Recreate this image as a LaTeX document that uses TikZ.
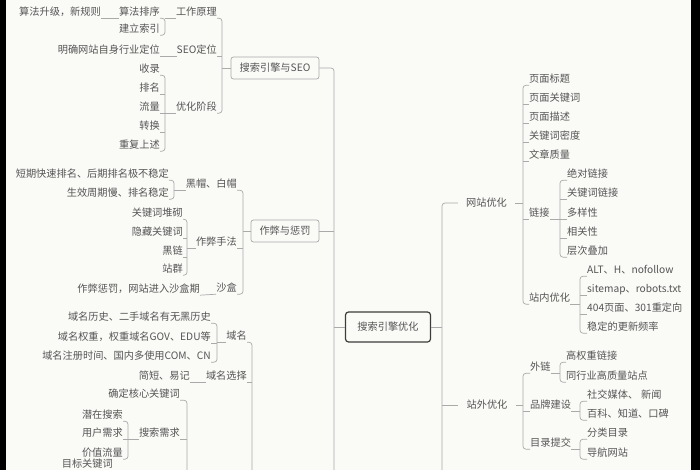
\documentclass[tikz,border=0pt]{standalone}
\usepackage{fontspec}
\setmainfont{Noto Sans CJK SC}
\definecolor{bgc}{RGB}{250,250,247}
\definecolor{txtc}{RGB}{85,85,85}
\definecolor{linec}{RGB}{170,170,170}
\definecolor{boxc}{RGB}{170,170,170}
\definecolor{mainc}{RGB}{60,60,60}
\newcommand\mmfs{\fontsize{10.2pt}{12pt}\selectfont}
\tikzset{
  conn/.style={draw=linec, line width=0.7pt, rounded corners=3pt},
  tx/.style={inner xsep=0pt, inner ysep=1pt, text height=8.8pt, text depth=1.2pt, text=txtc, font=\mmfs},
  lt/.style={tx, anchor=east},
  rt/.style={tx, anchor=west},
  midt/.style={tx, inner xsep=8pt},
  bx/.style={tx, draw=boxc, line width=0.7pt, rounded corners=2.5pt, inner xsep=7pt, minimum height=22pt},
  mainbx/.style={tx, draw=mainc, line width=1.2pt, rounded corners=3pt, inner xsep=8pt, minimum height=30pt, minimum width=85pt}
}
\begin{document}
\begin{tikzpicture}[x=1pt,y=-1pt]
\useasboundingbox (0,0) rectangle (700,470);
\clip (0,0) rectangle (700,470);
\fill[bgc] (0,0) rectangle (700,470);
\fill[black] (0,0) rectangle (6,470);
\fill[black] (691,0) rectangle (700,470);

% ---------- bracket coordinates ----------
\coordinate (B1) at (222,0);
\coordinate (B2) at (165,0);
\coordinate (B3) at (165,0);
\coordinate (B4) at (243,0);
\coordinate (B5) at (174,0);
\coordinate (B6) at (187,0);
\coordinate (B7) at (252,0);
\coordinate (B7e) at (252,490);
\coordinate (B8) at (217,0);
\coordinate (B9) at (187,0);
\coordinate (B9e) at (187,490);
\coordinate (B10) at (128,0);
\coordinate (B11) at (523,0);
\coordinate (B12) at (560,0);
\coordinate (B13) at (580,0);
\coordinate (B14) at (523,0);
\coordinate (B15) at (560,0);
\coordinate (B16) at (580,0);
\coordinate (B17) at (580,0);
\coordinate (TL) at (334,490);
\coordinate (TR) at (442,490);

% ---------- central ----------
\node[mainbx] (main) at (388,327) {搜索引擎优化};

% ---------- left: 搜索引擎与SEO ----------
\node[bx, minimum width=88pt] (seo) at (275,68) {搜索引擎与SEO};
\node[lt] (gz) at (217,12) {工作原理};
\node[lt] (seodw) at (217,50) {SEO定位};
\node[lt] (yh) at (217,107) {优化阶段};
\node[lt] (sf) at (160,12) {算法排序};
\node[lt] (jl) at (160,29) {建立索引};
\node[lt] (sfsj) at (101,12) {算法升级，新规则};
\node[lt] (mq) at (160,50) {明确网站自身行业定位};
\node[lt] (sl) at (160,69) {收录};
\node[lt] (pm) at (160,88) {排名};
\node[lt] (ll) at (160,107) {流量};
\node[lt] (zh) at (160,126) {转换};
\node[lt] (cf) at (160,145) {重复上述};

% ---------- left: 作弊与惩罚 ----------
\node[bx, minimum width=68pt] (zb) at (285,231) {作弊与惩罚};
\node[lt] (hb) at (237,184) {黑帽、白帽};
\node[lt] (zbsf) at (237,242) {作弊手法};
\node[lt] (sh) at (237,288) {沙盒};
\node[lt] (dq) at (169,174) {短期快速排名、后期排名极不稳定};
\node[lt] (sx) at (169,193) {生效周期慢、排名稳定};
\node[lt] (jc) at (183,213) {关键词堆砌};
\node[lt] (yc) at (183,232) {隐藏关键词};
\node[lt] (hl) at (183,251) {黑链};
\node[lt] (zq) at (183,269) {站群};
\node[lt] (zbcf) at (200,289) {作弊惩罚，网站进入沙盒期};

% ---------- left: bottom ----------
\node[lt] (dm) at (247,336) {域名};
\node[lt] (dmxz) at (247,376) {域名选择};
\node[lt] (dmls) at (211,317) {域名历史、二手域名有无黑历史};
\node[lt] (dmqz) at (211,337) {域名权重，权重域名GOV、EDU等};
\node[lt] (dmzc) at (211,356) {域名注册时间、国内多使用COM、CN};
\node[lt] (jdyj) at (190,376) {简短、易记};
\node[lt] (hx) at (180,394) {确定核心关键词};
\node[lt] (ssxq) at (180,433) {搜索需求};
\node[lt] (qz) at (123,415) {潜在搜索};
\node[lt] (yhxq) at (123,433) {用户需求};
\node[lt] (jzll) at (123,453) {价值流量};
\node[lt] (mbgjc) at (113,464) {目标关键词};

% ---------- right: 网站优化 ----------
\node[midt] (wz) at (486.5,203) {网站优化};
\node[rt] (ymbt) at (529,79) {页面标题};
\node[rt] (ymgjc) at (529,98) {页面关键词};
\node[rt] (ymms) at (529,117) {页面描述};
\node[rt] (gjcmd) at (529,136) {关键词密度};
\node[rt] (wzzl) at (529,155) {文章质量};
\node[rt] (lj) at (529,213) {链接};
\node[rt] (znyh) at (529,298) {站内优化};
\node[rt] (jdlj) at (567,174) {绝对链接};
\node[rt] (gjclj) at (567,193) {关键词链接};
\node[rt] (dyx) at (567,213) {多样性};
\node[rt] (xgx) at (567,232) {相关性};
\node[rt] (ccdj) at (567,251) {层次叠加};
\node[rt] (alt) at (587,270) {ALT、H、nofollow};
\node[rt] (smap) at (587,289) {sitemap、robots.txt};
\node[rt] (p404) at (587,308) {404页面、301重定向};
\node[rt] (wdgx) at (587,327) {稳定的更新频率};

% ---------- right: 站外优化 ----------
\node[midt] (zw) at (487,405) {站外优化};
\node[rt] (wl) at (530,367) {外链};
\node[rt] (ppjs) at (530,405) {品牌建设};
\node[rt] (mltj) at (530,443) {目录提交};
\node[rt] (gqz) at (566,356) {高权重链接};
\node[rt] (thy) at (566,376) {同行业高质量站点};
\node[rt] (shmt) at (587,395) {社交媒体、\hspace{3pt}新闻};
\node[rt] (bk) at (587,414) {百科、知道、口碑};
\node[rt] (fl) at (587,433) {分类目录};
\node[rt] (dh) at (587,453) {导航网站};

% ---------- trunks ----------
\draw[conn] (seo.east) -| (TL);
\draw[conn] (zb.east) -- (TL |- zb.east);
\draw[conn] (main.west) -- (TL |- main.west);
\draw[conn] (wz.west) -| (TR);
\draw[conn] (zw.west) -- (TR |- zw.west);
\draw[conn] (main.east) -- (TR |- main.east);

% ---------- left brackets ----------
\draw[conn] (gz.south east) -| (B1 |- yh.south) -- (yh.south east);
\draw[conn] (seodw.south east) -- (B1 |- seodw.south);
\draw[conn] (seo.west) -- (B1 |- seo.west);
\draw[conn] (sf.south east) -| (B2 |- jl.south) -- (jl.south east);
\draw[conn] (gz.south west) -- (B2 |- gz.south);
\draw[conn] (sfsj.south east) -- (sf.south west);
\draw[conn] (mq.south east) -- (seodw.south west);
\draw[conn] (sl.south east) -| (B3 |- cf.south) -- (cf.south east);
\draw[conn] (pm.south east) -- (B3 |- pm.south);
\draw[conn] (ll.south east) -- (B3 |- ll.south);
\draw[conn] (zh.south east) -- (B3 |- zh.south);
\draw[conn] (yh.south west) -- (B3 |- yh.south);
\draw[conn] (hb.south east) -| (B4 |- sh.south) -- (sh.south east);
\draw[conn] (zbsf.south east) -- (B4 |- zbsf.south);
\draw[conn] (zb.west) -- (B4 |- zb.west);
\draw[conn] (dq.south east) -| (B5 |- sx.south) -- (sx.south east);
\draw[conn] (hb.south west) -- (B5 |- hb.south);
\draw[conn] (jc.south east) -| (B6 |- zq.south) -- (zq.south east);
\draw[conn] (yc.south east) -- (B6 |- yc.south);
\draw[conn] (hl.south east) -- (B6 |- hl.south);
\draw[conn] (zbsf.south west) -- (B6 |- zbsf.south);
\draw[conn] (zbcf.south east) -- (sh.south west);
\draw[conn] (dm.south east) -| (B7e);
\draw[conn] (dmxz.south east) -- (B7 |- dmxz.south);
\draw[conn] (dmls.south east) -| (B8 |- dmzc.south) -- (dmzc.south east);
\draw[conn] (dmqz.south east) -- (B8 |- dmqz.south);
\draw[conn] (dm.south west) -- (B8 |- dm.south);
\draw[conn] (jdyj.south east) -- (dmxz.south west);
\draw[conn] (hx.south east) -| (B9e);
\draw[conn] (ssxq.south east) -- (B9 |- ssxq.south);
\draw[conn] (qz.south east) -| (B10 |- jzll.south) -- (jzll.south east);
\draw[conn] (yhxq.south east) -- (B10 |- yhxq.south);
\draw[conn] (ssxq.south west) -- (B10 |- ssxq.south);

% ---------- right brackets ----------
\draw[conn] (ymbt.south west) -| (B11 |- znyh.south) -- (znyh.south west);
\foreach \n in {ymgjc,ymms,gjcmd,wzzl,lj}{\draw[conn] (\n.south west) -- (B11 |- \n.south);}
\draw[conn] (wz.east) -- (B11 |- wz.east);
\draw[conn] (jdlj.south west) -| (B12 |- ccdj.south) -- (ccdj.south west);
\foreach \n in {gjclj,dyx,xgx}{\draw[conn] (\n.south west) -- (B12 |- \n.south);}
\draw[conn] (lj.south east) -- (B12 |- lj.south);
\draw[conn] (alt.south west) -| (B13 |- wdgx.south) -- (wdgx.south west);
\foreach \n in {smap,p404}{\draw[conn] (\n.south west) -- (B13 |- \n.south);}
\draw[conn] (znyh.south east) -- (B13 |- znyh.south);
\draw[conn] (wl.south west) -| (B14 |- mltj.south) -- (mltj.south west);
\draw[conn] (ppjs.south west) -- (B14 |- ppjs.south);
\draw[conn] (zw.east) -- (B14 |- zw.east);
\draw[conn] (gqz.south west) -| (B15 |- thy.south) -- (thy.south west);
\draw[conn] (wl.south east) -- (B15 |- wl.south);
\draw[conn] (shmt.south west) -| (B16 |- bk.south) -- (bk.south west);
\draw[conn] (ppjs.south east) -- (B16 |- ppjs.south);
\draw[conn] (fl.south west) -| (B17 |- dh.south) -- (dh.south west);
\draw[conn] (mltj.south east) -- (B17 |- mltj.south);
\end{tikzpicture}
\end{document}
